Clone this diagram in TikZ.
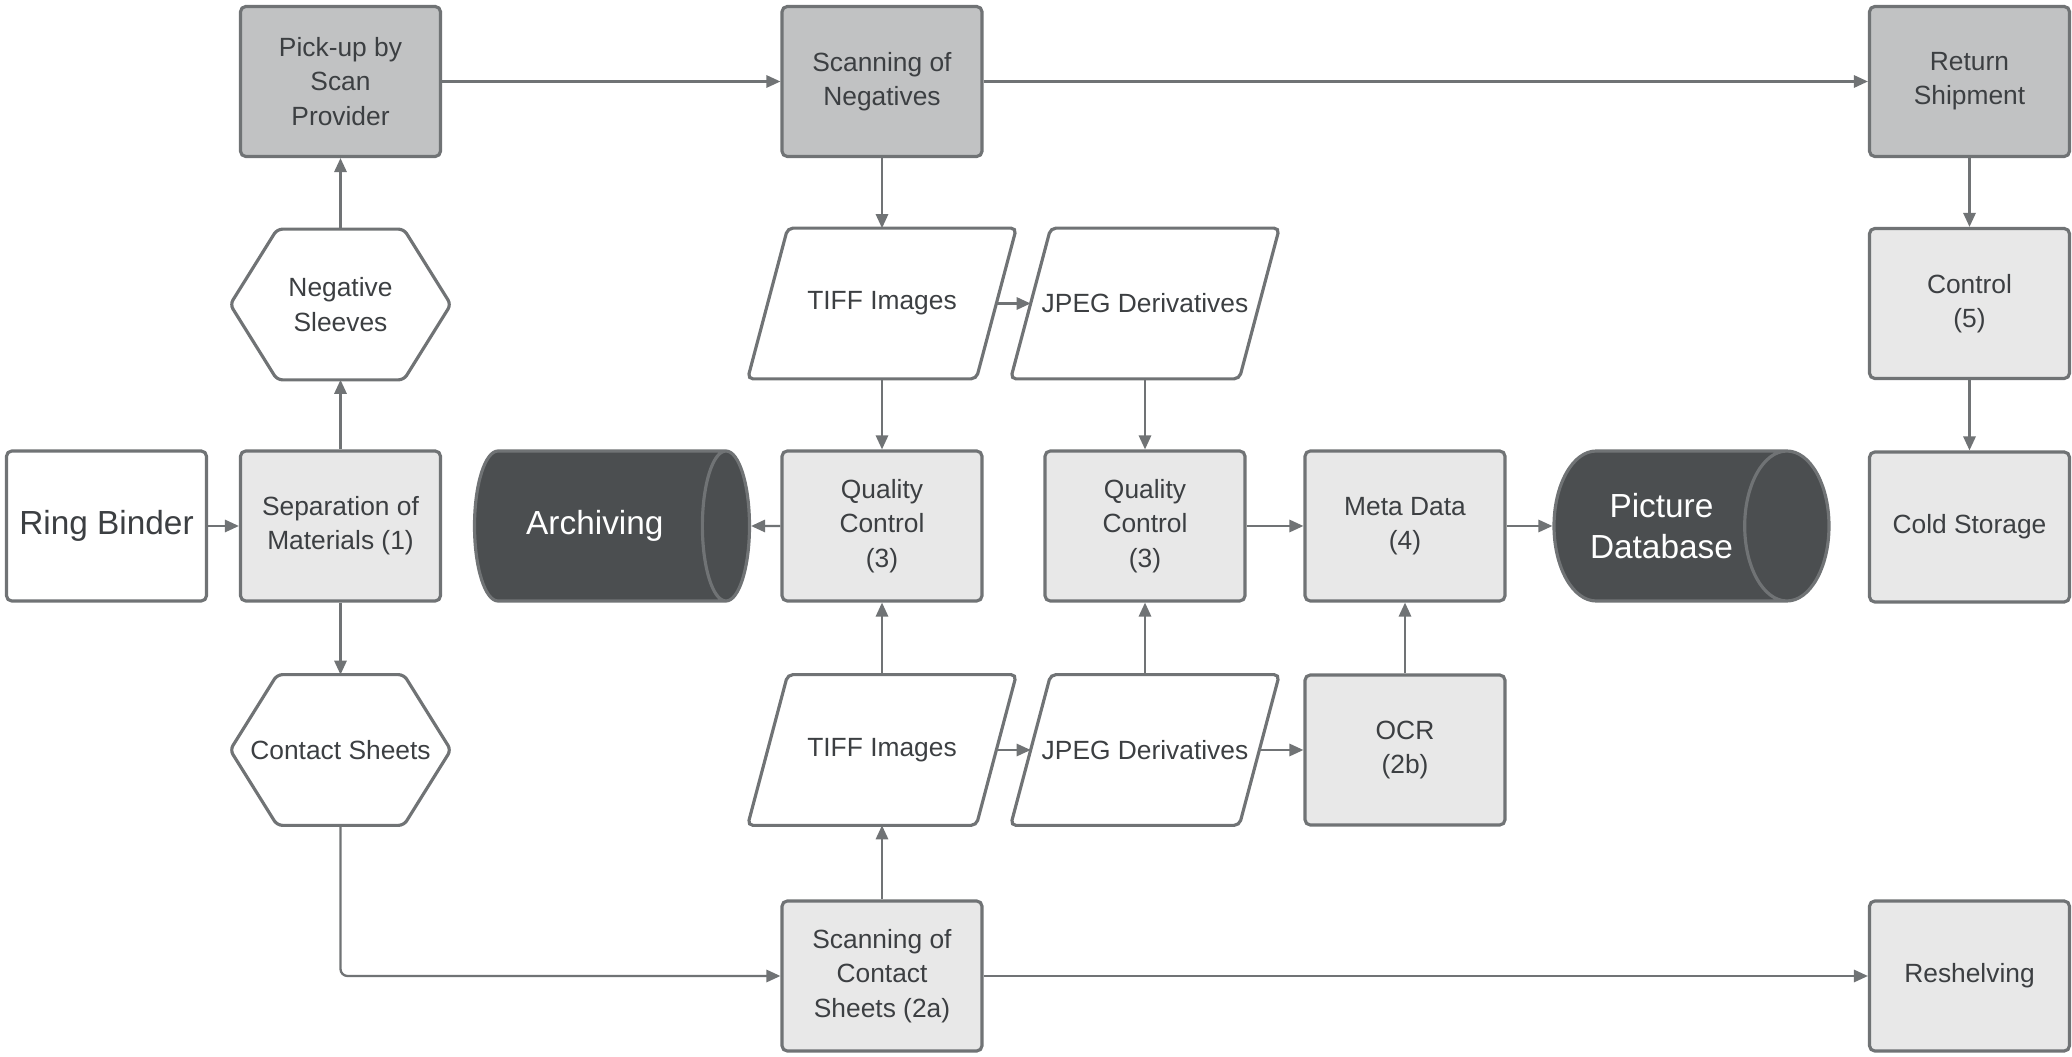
\documentclass[tikz,border=0pt]{standalone}
\usepackage{fontspec}
\setmainfont{Liberation Sans}
\usepackage{xcolor}
\usepackage{tikz}
\usetikzlibrary{arrows.meta,positioning,calc,shapes.geometric}

\definecolor{lineg}{HTML}{707375}
\definecolor{textg}{HTML}{3C3F42}
\definecolor{boxdark}{HTML}{C1C2C3}
\definecolor{boxlight}{HTML}{E8E8E8}
\definecolor{cyl}{HTML}{4B4E50}

\begin{document}
\begin{tikzpicture}[>={Triangle[length=8pt,width=7pt]},
  every node/.style={font=\fontsize{15}{19.5}\selectfont,text=textg,align=center},
  proc/.style={draw=lineg,line width=1.8pt,rounded corners=3pt,fill=boxlight,minimum width=4cm,minimum height=3cm},
  procd/.style={proc,fill=boxdark},
  hexbox/.style={minimum width=4.4cm,minimum height=3cm},
  databox/.style={minimum width=5.36cm,minimum height=3cm},
  outl/.style={draw=lineg,line width=1.8pt,rounded corners=3pt},
  store/.style={cylinder,draw=lineg,line width=1.8pt,fill=cyl,aspect=1.1,anchor=shape center,
    minimum width=3cm,minimum height=5.5cm,text=white,font=\fontsize{19}{23}\selectfont},
  flow/.style={->,draw=lineg,line width=1.3pt}]
  \useasboundingbox (0,0) rectangle (41.44,21.12);

  \node[proc,fill=white,font=\fontsize{19}{23}\selectfont] (RB) at (2.13,10.6) {Ring Binder};
  \node[procd] (Pick) at (6.81,19.49) {Pick-up by\\Scan\\Provider};
  \node[hexbox] (NegS) at (6.81,15.03) {Negative\\Sleeves};
  \node[proc] (Sep) at (6.81,10.6) {Separation of\\Materials (1)};
  \node[hexbox] (ConS) at (6.81,6.12) {Contact Sheets};
  \node[store] (Arch) at (12.24,10.6) {Archiving};
  \node[procd] (ScanN) at (17.64,19.49) {Scanning of\\Negatives};
  \node[databox] (Tif1) at (17.64,15.05) {TIFF Images};
  \node[proc] (QC1) at (17.64,10.6) {Quality\\Control\\(3)};
  \node[databox] (Tif2) at (17.64,6.12) {TIFF Images};
  \node[proc] (ScanC) at (17.64,1.6) {Scanning of\\Contact\\Sheets (2a)};
  \node[databox] (Jpg1) at (22.9,15.05) {JPEG Derivatives};
  \node[proc] (QC2) at (22.9,10.6) {Quality\\Control\\(3)};
  \node[databox] (Jpg2) at (22.9,6.12) {JPEG Derivatives};
  \node[proc] (Meta) at (28.1,10.6) {Meta Data\\(4)};
  \node[proc] (OCR) at (28.1,6.12) {OCR\\(2b)};
  \node[store] (PicDB) at (33.83,10.6) {Picture\\Database};
  \node[procd] (Ret) at (39.39,19.49) {Return\\Shipment};
  \node[proc] (Ctrl) at (39.39,15.05) {Control\\(5)};
  \node[proc] (Cold) at (39.39,10.58) {Cold Storage};
  \node[proc] (Resh) at (39.39,1.6) {Reshelving};

  \foreach \n in {NegS,ConS}
    \draw[outl] (\n.west) -- ([xshift=9.4mm]\n.north west) -- ([xshift=-9.4mm]\n.north east)
      -- (\n.east) -- ([xshift=-9.4mm]\n.south east) -- ([xshift=9.4mm]\n.south west) -- cycle;
  \foreach \n in {Tif1,Jpg1,Tif2,Jpg2}
    \draw[outl] ([xshift=8mm]\n.north west) -- (\n.north east) -- ([xshift=-8mm]\n.south east)
      -- (\n.south west) -- cycle;

  \draw[flow] (RB) -- (Sep);
  \draw[flow] (Sep) -- (NegS);
  \draw[flow] (NegS) -- (Pick);
  \draw[flow] (Sep) -- (ConS);
  \draw[flow] (Pick) -- (ScanN);
  \draw[flow] (ScanN) -- (Ret);
  \draw[flow] (ScanN) -- (Tif1);
  \draw[flow] ([xshift=-4mm]Tif1.east) -- ([xshift=4mm]Jpg1.west);
  \draw[flow] (Tif1) -- (QC1);
  \draw[flow] (Jpg1) -- (QC2);
  \draw[flow] (QC1) -- (Arch);
  \draw[flow] (QC2) -- (Meta);
  \draw[flow] (Meta) -- (PicDB);
  \draw[flow] (Ret) -- (Ctrl);
  \draw[flow] (Ctrl) -- (Cold);
  \draw[flow,rounded corners=4pt] (ConS) |- (ScanC);
  \draw[flow] (ScanC) -- (Tif2);
  \draw[flow] (Tif2) -- (QC1);
  \draw[flow] ([xshift=-4mm]Tif2.east) -- ([xshift=4mm]Jpg2.west);
  \draw[flow] ([xshift=-4mm]Jpg2.east) -- (OCR);
  \draw[flow] (Jpg2) -- (QC2);
  \draw[flow] (OCR) -- (Meta);
  \draw[flow] (ScanC) -- (Resh);
\end{tikzpicture}
\end{document}
